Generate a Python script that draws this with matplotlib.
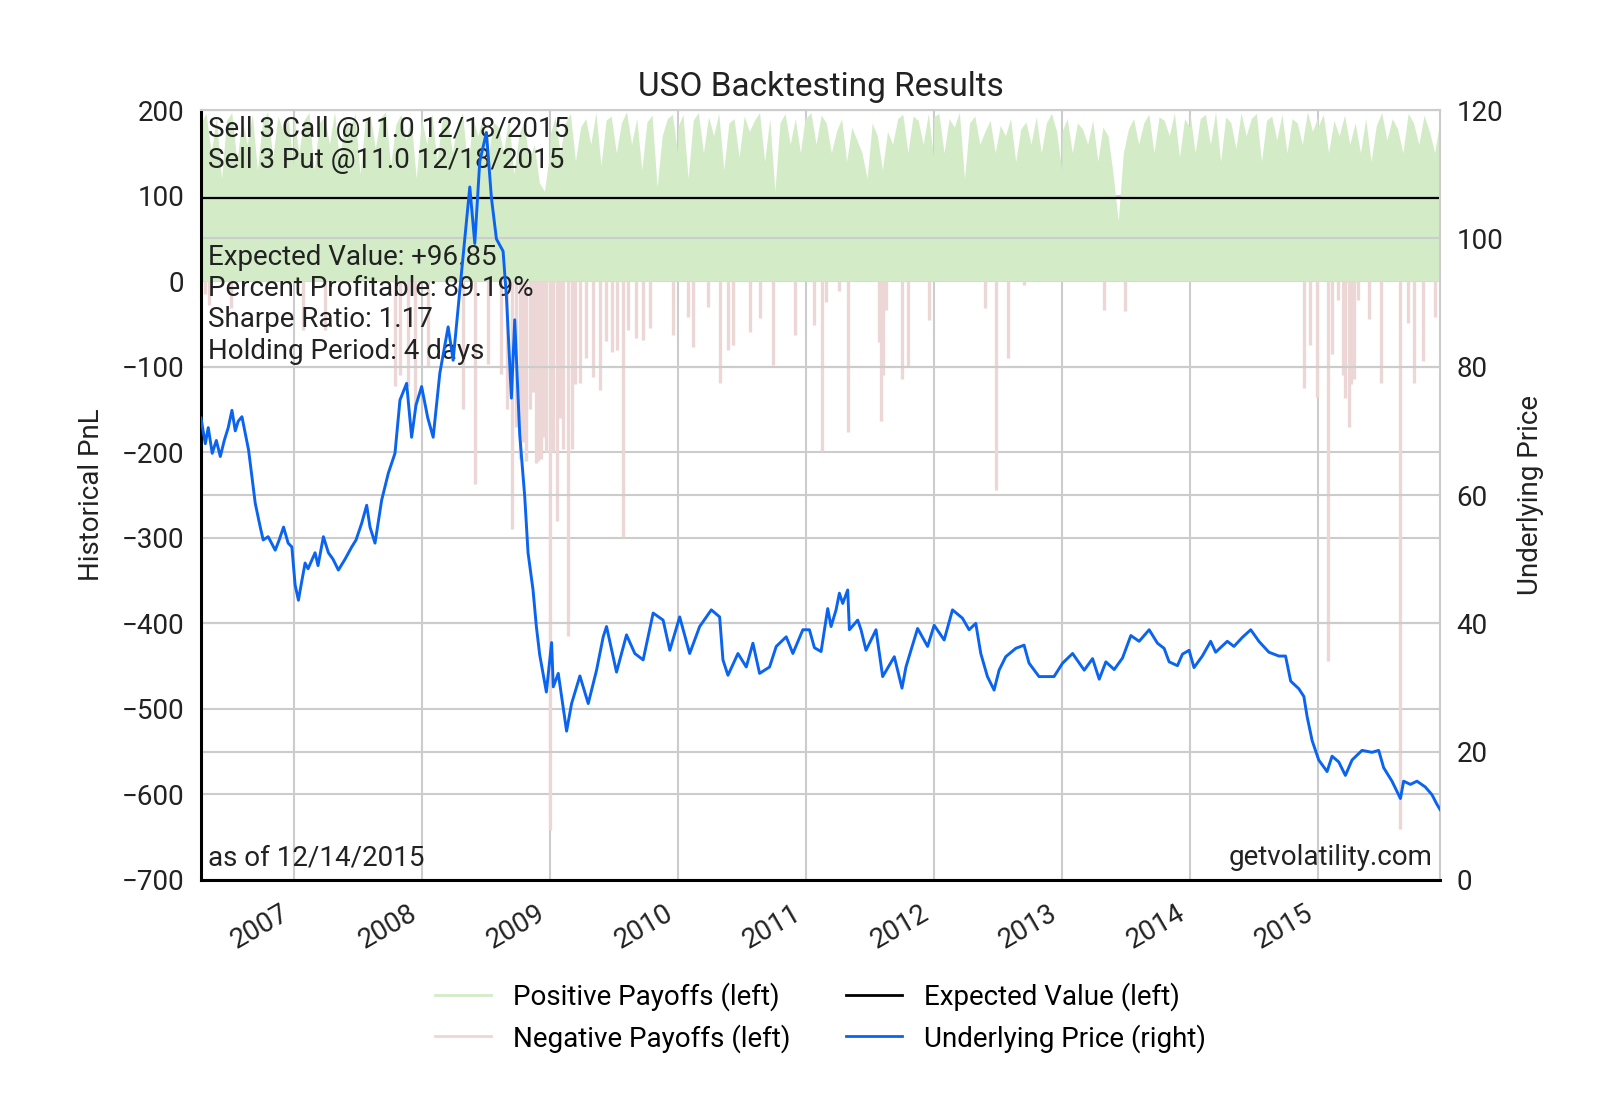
import numpy as np
import pandas as pd
import matplotlib
matplotlib.use("Agg")
import matplotlib.pyplot as plt
import matplotlib.dates as mdates
from matplotlib.lines import Line2D

plt.rcParams['font.family'] = ['Roboto', 'DejaVu Sans']

# underlying price (USO): decimal year / price
price_t = [2006.275, 2006.309, 2006.332, 2006.363, 2006.395, 2006.426, 2006.457, 2006.488,
           2006.517, 2006.543, 2006.566, 2006.595, 2006.647, 2006.699, 2006.738, 2006.761,
           2006.800, 2006.855, 2006.886, 2006.920, 2006.956, 2006.985, 2007.011, 2007.037,
           2007.058, 2007.089, 2007.112, 2007.167, 2007.190, 2007.232, 2007.271, 2007.307,
           2007.349, 2007.401, 2007.453, 2007.487, 2007.531, 2007.570, 2007.596, 2007.635,
           2007.687, 2007.739, 2007.791, 2007.830, 2007.882, 2007.921, 2007.955, 2007.999,
           2008.048, 2008.090, 2008.142, 2008.207, 2008.246, 2008.311, 2008.376, 2008.415,
           2008.454, 2008.506, 2008.545, 2008.584, 2008.636, 2008.662, 2008.701, 2008.727,
           2008.766, 2008.805, 2008.831, 2008.870, 2008.896, 2008.922, 2008.974, 2009.013,
           2009.026, 2009.065, 2009.091, 2009.130, 2009.169, 2009.234, 2009.299, 2009.364,
           2009.416, 2009.442, 2009.520, 2009.598, 2009.663, 2009.728, 2009.806, 2009.884,
           2009.936, 2010.014, 2010.092, 2010.170, 2010.261, 2010.326, 2010.352, 2010.391,
           2010.469, 2010.534, 2010.586, 2010.638, 2010.716, 2010.768, 2010.846, 2010.898,
           2010.976, 2011.028, 2011.067, 2011.119, 2011.171, 2011.197, 2011.236, 2011.262,
           2011.288, 2011.327, 2011.340, 2011.405, 2011.431, 2011.470, 2011.548, 2011.600,
           2011.691, 2011.751, 2011.782, 2011.821, 2011.873, 2011.951, 2012.003, 2012.081,
           2012.146, 2012.224, 2012.276, 2012.328, 2012.367, 2012.419, 2012.471, 2012.510,
           2012.562, 2012.640, 2012.705, 2012.744, 2012.822, 2012.939, 2013.004, 2013.082,
           2013.173, 2013.238, 2013.290, 2013.342, 2013.407, 2013.472, 2013.537, 2013.602,
           2013.680, 2013.745, 2013.797, 2013.836, 2013.901, 2013.940, 2013.992, 2014.031,
           2014.096, 2014.161, 2014.200, 2014.291, 2014.343, 2014.408, 2014.474, 2014.538,
           2014.616, 2014.694, 2014.746, 2014.786, 2014.850, 2014.889, 2014.915, 2014.954,
           2015.006, 2015.071, 2015.110, 2015.162, 2015.214, 2015.266, 2015.344, 2015.422,
           2015.474, 2015.513, 2015.578, 2015.644, 2015.669, 2015.722, 2015.773, 2015.838,
           2015.890, 2015.929, 2015.953]
price = [72.0, 68.0, 70.5, 66.5, 68.5, 66.0, 68.5, 70.5,
         73.2, 70.0, 71.5, 72.2, 67.0, 58.7, 55.0, 53.0,
         53.5, 51.4, 53.0, 55.0, 52.5, 51.9, 46.0, 43.6,
         46.0, 49.4, 48.5, 51.0, 49.0, 53.5, 51.0, 50.0,
         48.3, 50.0, 51.9, 53.0, 55.6, 58.4, 55.0, 52.5,
         59.2, 63.4, 66.5, 74.8, 77.4, 69.0, 74.0, 76.9,
         72.0, 69.0, 79.0, 86.2, 81.0, 94.6, 108.0, 99.2,
         112.0, 116.5, 106.3, 99.9, 98.0, 91.0, 75.1, 87.3,
         69.4, 59.8, 51.0, 45.2, 39.5, 35.1, 29.3, 37.0,
         30.1, 32.2, 28.6, 23.2, 27.5, 31.8, 27.5, 32.7,
         37.9, 39.5, 32.4, 38.2, 35.3, 34.3, 41.6, 40.5,
         35.8, 41.0, 35.3, 39.5, 42.1, 41.0, 34.3, 31.9,
         35.3, 33.2, 36.9, 32.2, 33.2, 36.4, 37.9, 35.3,
         39.0, 39.0, 36.2, 35.6, 42.3, 39.5, 42.1, 44.7,
         43.1, 45.2, 39.0, 40.5, 39.0, 35.8, 39.0, 31.7,
         34.8, 29.9, 33.2, 35.8, 39.2, 36.4, 39.7, 37.4,
         42.1, 40.8, 39.0, 40.0, 35.3, 31.7, 29.6, 32.7,
         34.8, 36.1, 36.6, 33.8, 31.7, 31.7, 33.8, 35.3,
         32.7, 34.5, 31.3, 34.0, 32.8, 34.6, 38.1, 37.2,
         39.0, 36.9, 36.1, 34.0, 33.4, 35.2, 35.8, 33.1,
         34.9, 37.2, 35.5, 37.2, 36.4, 37.8, 39.0, 37.2,
         35.5, 34.9, 34.9, 31.0, 29.8, 28.6, 25.4, 21.7,
         18.7, 16.9, 19.3, 18.4, 16.3, 18.7, 20.2, 19.9,
         20.2, 17.5, 15.4, 12.7, 15.4, 14.9, 15.4, 14.5,
         13.3, 11.8, 11.0]

# positive payoffs, top of the green band sampled through each year
pos_2006 = [185, 196, 150, 192, 120, 188, 197, 140, 190, 160, 195, 130, 186, 198, 145, 193, 175, 190, 135]
pos_2007 = [194, 150, 188, 197, 130, 185, 192, 160, 198, 140, 190, 178, 196, 125, 187, 194, 155, 191,
            198, 135, 183, 195, 165, 190, 120, 186]
pos_2008 = [190, 160, 196, 140, 188, 193, 150, 185, 197, 130, 190, 170, 195, 145, 186, 180, 150, 192,
            125, 170, 188, 140, 160, 115, 105, 150]
pos_2009 = [170, 192, 150, 185, 196, 140, 180, 190, 160, 197, 135, 188, 193, 150, 185, 198, 160, 190,
            130, 186, 194, 110, 170, 190, 195, 150]
pos_2010 = [180, 195, 120, 188, 197, 150, 192, 170, 196, 130, 185, 190, 145, 193, 175, 188, 197, 140,
            190, 105, 185, 196, 160, 190, 150, 194]
pos_2011 = [190, 197, 160, 194, 185, 150, 175, 190, 140, 180, 165, 150, 120, 185, 170, 130, 175, 160,
            190, 195, 150, 193, 188, 160, 196, 145]
pos_2012 = [192, 196, 150, 190, 180, 197, 120, 185, 193, 160, 175, 188, 150, 182, 170, 190, 140, 178,
            186, 160, 192, 150, 185, 196, 175, 130]
pos_2013 = [175, 190, 150, 185, 178, 160, 188, 140, 180, 170, 125, 70, 150, 178, 190, 160, 185, 195,
            150, 192, 188, 170, 197, 145, 190, 180]
pos_2014 = [196, 150, 190, 195, 160, 198, 140, 192, 185, 155, 197, 170, 190, 196, 140, 188, 193, 165,
            195, 150, 190, 185, 160, 198, 175, 192]
pos_2015 = [180, 195, 150, 188, 170, 194, 160, 185, 150, 190, 140, 182, 197, 165, 190, 178, 150, 196,
            185, 160, 194, 175, 150, 188]
pos_blocks = [pos_2006, pos_2007, pos_2008, pos_2009, pos_2010, pos_2011, pos_2012, pos_2013, pos_2014, pos_2015]

# negative payoffs (individual losing trades)
neg_t = [2006.309, 2006.340, 2006.509, 2007.069, 2007.245, 2007.791, 2007.830, 2007.892, 2007.947,
         2008.048, 2008.324, 2008.415, 2008.519, 2008.623, 2008.665, 2008.709, 2008.735, 2008.766,
         2008.789, 2008.818, 2008.844, 2008.870, 2008.896, 2008.909, 2008.935, 2008.953, 2008.974,
         2009.000, 2009.023, 2009.052, 2009.078, 2009.101, 2009.143, 2009.169, 2009.195, 2009.234,
         2009.281, 2009.338, 2009.390, 2009.437, 2009.481, 2009.520, 2009.572, 2009.611, 2009.676,
         2009.728, 2009.780, 2009.962, 2010.079, 2010.118, 2010.235, 2010.326, 2010.391, 2010.430,
         2010.560, 2010.638, 2010.742, 2010.911, 2011.067, 2011.127, 2011.158, 2011.257, 2011.327,
         2011.574, 2011.587, 2011.600, 2011.626, 2011.751, 2011.795, 2011.959, 2012.401, 2012.489,
         2012.583, 2012.705, 2013.324, 2013.493, 2014.889, 2014.934, 2014.993, 2015.076, 2015.107,
         2015.157, 2015.193, 2015.214, 2015.240, 2015.259, 2015.279, 2015.313, 2015.398, 2015.494,
         2015.644, 2015.701, 2015.747, 2015.817, 2015.916]
neg_vals = [-15, -28, -31, -57, -57, -123, -110, -123, -150,
            -100, -150, -237, -97, -108, -150, -290, -170, -208,
            -188, -210, -150, -130, -213, -210, -208, -182, -200,
            -641, -200, -280, -160, -196, -415, -196, -120, -119,
            -90, -112, -127, -70, -83, -80, -299, -57, -67,
            -69, -55, -63, -42, -77, -30, -119, -80, -75,
            -59, -43, -98, -63, -51, -199, -24, -12, -176,
            -71, -164, -110, -34, -114, -100, -45, -32, -244,
            -90, -5, -34, -35, -125, -75, -136, -444, -85,
            -22, -110, -137, -170, -120, -114, -22, -44, -119,
            -640, -49, -119, -93, -42]

expected_value = 96.85
stats = ["Expected Value: +96.85", "Percent Profitable: 89.19%",
         "Sharpe Ratio: 1.17", "Holding Period: 4 days"]
legs = ["Sell 3 Call @11.0 12/18/2015", "Sell 3 Put @11.0 12/18/2015"]


def to_date(y):
    yr = int(y)
    return pd.Timestamp(yr, 1, 1) + pd.Timedelta(days=(y - yr) * 365.25)


price_d = [to_date(t) for t in price_t]
neg_d = [to_date(t) for t in neg_t]
start, end = price_d[0], price_d[-1]

pos_d = []
pos_v = []
for i, block in enumerate(pos_blocks):
    yr = 2006 + i
    a = max(start, pd.Timestamp(yr, 1, 1))
    b = min(end, pd.Timestamp(yr, 12, 31))
    pos_d += list(pd.date_range(a, b, periods=len(block)))
    pos_v += block

green = '#d3ecc7'
pink = '#ecd6d6'
blue = '#0a64f0'
grid = '#cccccc'
txt = '#222222'
fs = 20

fig = plt.figure(figsize=(16, 11), dpi=100)
ax = fig.add_axes([0.1256, 0.2, 0.7744, 0.7])
ax2 = ax.twinx()

ax.fill_between(pos_d, 0, pos_v, color=green, lw=0, zorder=2)
ax.vlines(neg_d, 0, neg_vals, color=pink, lw=2.4, zorder=2)
ax.axhline(expected_value, color='black', lw=1.6, zorder=3)
ax2.plot(price_d, price, color=blue, lw=2.1, zorder=3)

ax.set_ylim(-700, 200)
ax.set_yticks(np.arange(-700, 201, 100))
ax2.set_ylim(0, 120)
ax2.set_yticks(np.arange(0, 121, 20))
ax.set_xlim(start, end)

ax.xaxis.set_major_locator(mdates.YearLocator())
ax.xaxis.set_major_formatter(mdates.DateFormatter('%Y'))
for lab in ax.get_xticklabels():
    lab.set_rotation(30)
    lab.set_ha('right')

ax.grid(True, color=grid, lw=1.5, zorder=0)
ax.set_axisbelow(True)
ax2.grid(True, axis='y', color=grid, lw=1.5)

ax.tick_params(axis='both', length=0, labelsize=fs, labelcolor=txt)
ax.tick_params(axis='y', pad=12)
ax.tick_params(axis='x', pad=14)
ax2.tick_params(axis='y', length=0, labelsize=fs, pad=12, labelcolor=txt)

for s in ax.spines.values():
    s.set_visible(False)
for side in ['left', 'bottom']:
    ax2.spines[side].set_color('black')
    ax2.spines[side].set_linewidth(2.2)
for side in ['top', 'right']:
    ax2.spines[side].set_color(grid)
    ax2.spines[side].set_linewidth(1.5)

ax.set_ylabel('Historical PnL', fontsize=fs, labelpad=12, color=txt)
ax2.set_ylabel('Underlying Price', fontsize=fs, labelpad=10, color=txt)
ax.set_title('USO Backtesting Results', fontsize=24, pad=10, color=txt)

ax.text(0.006, 0.9745, legs[0], transform=ax.transAxes, va='center', fontsize=fs, color=txt, zorder=4)
ax.text(0.006, 0.934, legs[1], transform=ax.transAxes, va='center', fontsize=fs, color=txt, zorder=4)
for i, s in enumerate(stats):
    ax.text(0.006, 0.809 - i * 0.0407, s, transform=ax.transAxes, va='center', fontsize=fs,
            color=txt, zorder=4)
ax.text(0.006, 0.029, 'as of 12/14/2015', transform=ax.transAxes, va='center', fontsize=fs,
        color=txt, zorder=4)
ax.text(0.994, 0.029, 'getvolatility.com', transform=ax.transAxes, va='center', ha='right',
        fontsize=fs, color=txt, zorder=4)

handles = [Line2D([], [], color=green, lw=2),
           Line2D([], [], color=pink, lw=2),
           Line2D([], [], color='black', lw=2),
           Line2D([], [], color=blue, lw=2)]
labels = ['Positive Payoffs (left)', 'Negative Payoffs (left)',
          'Expected Value (left)', 'Underlying Price (right)']
fig.legend(handles, labels, loc='center', bbox_to_anchor=(0.513, 0.075), ncol=2, frameon=False,
           fontsize=fs, handlelength=2.0, columnspacing=2.0, labelspacing=0.45, handletextpad=0.8)

fig.savefig('out.png', dpi=100)
